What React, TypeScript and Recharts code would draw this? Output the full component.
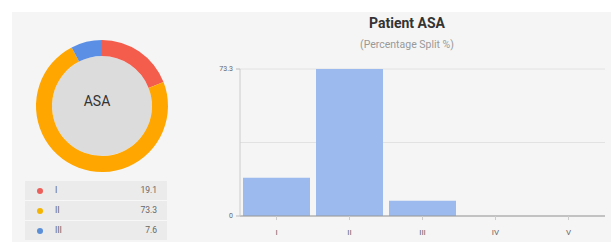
import React from "react";
import { PieChart, Pie, Cell, BarChart, Bar, XAxis, YAxis, CartesianGrid } from "recharts";

const asaClasses = ["I", "II", "III", "IV", "V"];
const asaValues = [19.1, 73.3, 7.6, 0, 0];
const donutLabels = ["I", "II", "III"];
const donutValues = [19.1, 73.3, 7.6];
const donutColors = ["#f45c4c", "#ffa600", "#5b8fe6"];
const dotColors = ["#ec5f5a", "#f4b400", "#5b8fd8"];
const yTicks = [0, 73.3];
const gridValues = [0, 36.65, 73.3];

const barData = asaClasses.map((c, i) => ({ name: c, value: asaValues[i] }));
const donutData = donutLabels.map((l, i) => ({ name: l, value: donutValues[i] }));

const font = "Roboto, 'Noto Sans', sans-serif";

export default function App() {
  return (
    <div style={{ position: "absolute", left: 0, top: 0, width: 611, height: 242, background: "#ffffff", fontFamily: font, overflow: "hidden" }}>
      <div style={{ position: "absolute", left: 12, top: 12, width: 599, height: 230, background: "#f5f5f5" }} />
      <div style={{ position: "absolute", left: 0, top: 0 }}>
        <PieChart width={194} height={202}>
          <Pie data={[{ v: 1 }]} dataKey="v" cx={97} cy={101} innerRadius={0} outerRadius={50} stroke="none" isAnimationActive={false}>
            <Cell fill="#dcdcdc" />
          </Pie>
          <Pie data={donutData} dataKey="value" cx={97} cy={101} innerRadius={50} outerRadius={66} startAngle={90} endAngle={-270} stroke="none" isAnimationActive={false}>
            {donutData.map((d, i) => (
              <Cell key={d.name} fill={donutColors[i]} />
            ))}
          </Pie>
        </PieChart>
      </div>
      <div style={{ position: "absolute", left: 47, top: 91, width: 100, height: 20, lineHeight: "20px", textAlign: "center", fontSize: 14, color: "#333" }}>ASA</div>
      <div style={{ position: "absolute", left: 25, top: 181, width: 142, background: "#ebebeb" }}>
        {donutLabels.map((l, i) => (
          <div key={l} style={{ position: "relative", height: 19, borderTop: i === 0 ? "none" : "1px solid #f7f7f7", fontSize: 8.5, color: "#666", lineHeight: "19px" }}>
            <span style={{ position: "absolute", left: 12, top: 7, width: 6, height: 6, borderRadius: 3, background: dotColors[i] }} />
            <span style={{ position: "absolute", left: 30 }}>{l}</span>
            <span style={{ position: "absolute", right: 10 }}>{donutValues[i]}</span>
          </div>
        ))}
      </div>
      <div style={{ position: "absolute", left: 200, top: 0 }}>
        <BarChart width={411} height={242} data={barData} margin={{ top: 69, right: 6, bottom: 6, left: 0 }} barCategoryGap={3}>
          <text x={207} y={23} textAnchor="middle" dominantBaseline="central" fontSize={14} fontWeight="bold" fill="#333" fontFamily={font}>Patient ASA</text>
          <text x={207} y={44} textAnchor="middle" dominantBaseline="central" fontSize={10.5} fill="#999" fontFamily={font}>(Percentage Split %)</text>
          <CartesianGrid vertical={false} stroke="#e2e2e2" horizontalValues={gridValues} />
          <XAxis dataKey="name" height={20} tickSize={4} tickMargin={9} interval={0} axisLine={{ stroke: "#999" }} tickLine={{ stroke: "#ccc" }} tick={{ fontSize: 8, fill: "#666", fontFamily: font }} />
          <YAxis domain={[0, 73.3]} ticks={yTicks} width={40} tickSize={4} tickMargin={3} axisLine={{ stroke: "#ccc" }} tickLine={{ stroke: "#bbb" }} tick={{ fontSize: 7, fill: "#666", fontFamily: font }} />
          <Bar dataKey="value" fill="#9cbaee" isAnimationActive={false} />
        </BarChart>
      </div>
    </div>
  );
}
